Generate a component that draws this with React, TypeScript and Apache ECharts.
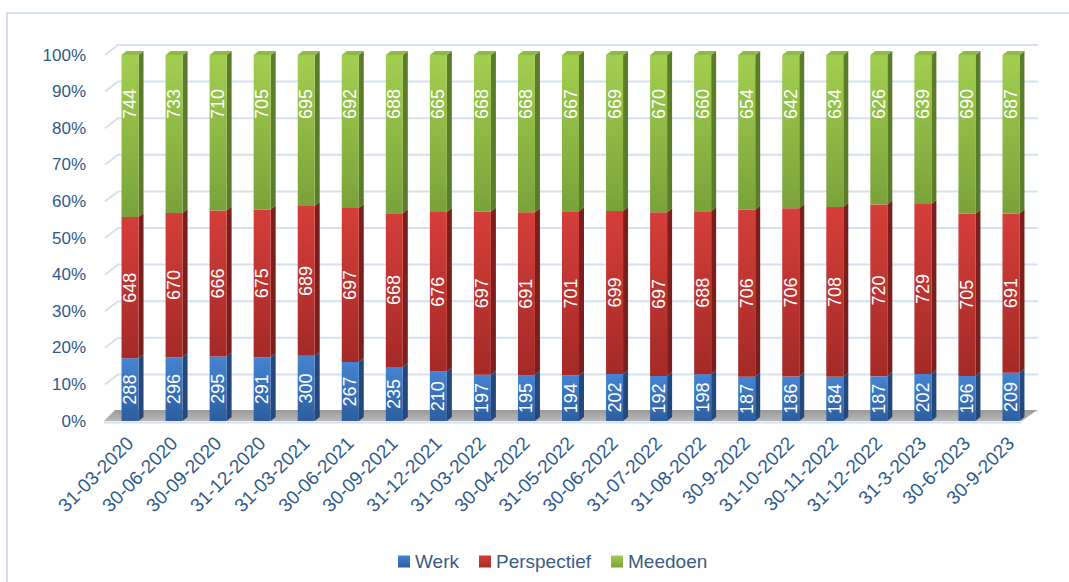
import React, { useEffect, useRef } from "react";
import * as echarts from "echarts";

const categories = [
  "31-03-2020", "30-06-2020", "30-09-2020", "31-12-2020", "31-03-2021", "30-06-2021",
  "30-09-2021", "31-12-2021", "31-03-2022", "30-04-2022", "31-05-2022", "30-06-2022",
  "31-07-2022", "31-08-2022", "30-9-2022", "31-10-2022", "30-11-2022", "31-12-2022",
  "31-3-2023", "30-6-2023", "30-9-2023",
];
const werk = [288, 296, 295, 291, 300, 267, 235, 210, 197, 195, 194, 202, 192, 198, 187, 186, 184, 187, 202, 196, 209];
const perspectief = [648, 670, 666, 675, 689, 697, 668, 676, 697, 691, 701, 699, 697, 688, 706, 706, 708, 720, 729, 705, 691];
const meedoen = [744, 733, 710, 705, 695, 692, 688, 665, 668, 668, 667, 669, 670, 660, 654, 642, 634, 626, 639, 690, 687];
const yTicks = [0, 10, 20, 30, 40, 50, 60, 70, 80, 90, 100];
const seriesNames = ["Werk", "Perspectief", "Meedoen"];

const FONT = "'Liberation Sans', Arial, sans-serif";
const TEXT_COLOR = "#2f5a8c";
const BAR_W = 17;
const DX = 5;
const DY = -4;

const grad = (top: string, bottom: string) =>
  new echarts.graphic.LinearGradient(0, 0, 0, 1, [
    { offset: 0, color: top },
    { offset: 1, color: bottom },
  ]);

export default function App() {
  const ref = useRef<HTMLDivElement>(null);

  useEffect(() => {
    document.body.style.margin = "0";
    if (!ref.current) return;
    const chart = echarts.init(ref.current, undefined, { renderer: "svg" });

    const totals = werk.map((w, i) => w + perspectief[i] + meedoen[i]);
    const pct = (arr: number[]) => arr.map((v, i) => (v / totals[i]) * 100);
    const pW = pct(werk);
    const pP = pct(perspectief);
    const pM = pct(meedoen);
    const raw = [werk, perspectief, meedoen];
    const pcts = [pW, pP, pM];
    const fronts = [
      grad("#4584d2", "#2d5e9f"),
      grad("#d53e3a", "#a42a27"),
      grad("#a2ce50", "#79a33a"),
    ];
    const sides = ["#24487a", "#7a1f1c", "#5b7c2a"];

    const depthData = categories.map((_, i) => [i, pW[i], pW[i] + pP[i], 100]);

    const barSeries = seriesNames.map((name, k) => ({
      name,
      type: "bar",
      stack: "total",
      barWidth: BAR_W,
      z: 3,
      itemStyle: { color: fronts[k] },
      data: pcts[k],
      label: {
        show: true,
        position: k === 2 ? ["50%", 49] : "inside",
        rotate: 90,
        align: "center",
        verticalAlign: "middle",
        color: "#ffffff",
        fontSize: 18,
        fontFamily: FONT,
        formatter: (p: any) => String(raw[k][p.dataIndex]),
      },
    }));

    const option: any = {
      animation: false,
      backgroundColor: "#ffffff",
      graphic: [
        {
          type: "rect",
          shape: { x: 7, y: 13, width: 1100, height: 620 },
          style: { fill: "none", stroke: "#d3dff0", lineWidth: 2 },
          silent: true,
          z: 0,
        },
      ],
      grid: { left: 108, right: 36, top: 55, bottom: 161 },
      legend: {
        data: seriesNames,
        left: 393,
        top: 547,
        icon: "rect",
        itemWidth: 12,
        itemHeight: 12,
        itemGap: 20,
        textStyle: { fontSize: 19, color: "#3b5b85", fontFamily: FONT },
      },
      xAxis: {
        type: "category",
        data: categories,
        axisLine: { show: false },
        axisTick: { show: false },
        axisLabel: {
          rotate: 45,
          interval: 0,
          margin: 19,
          fontSize: 19,
          color: TEXT_COLOR,
          fontFamily: FONT,
        },
      },
      yAxis: {
        type: "value",
        min: 0,
        max: 100,
        interval: 10,
        axisLine: { show: false },
        axisTick: { show: false },
        splitLine: { show: false },
        axisLabel: {
          formatter: "{value}%",
          margin: 22,
          fontSize: 17,
          color: TEXT_COLOR,
          fontFamily: FONT,
        },
      },
      series: [
        {
          type: "custom",
          name: "depth",
          z: 1,
          clip: false,
          silent: true,
          encode: { x: 0, y: 3 },
          data: depthData,
          renderItem: (params: any, api: any) => {
            const i = api.value(0);
            const xc = api.coord([i, 0])[0];
            const xl = xc - BAR_W / 2;
            const xr = xc + BAR_W / 2;
            const levels = [0, api.value(1), api.value(2), api.value(3)];
            const ys = levels.map((v) => api.coord([i, v])[1]);
            const children: any[] = [];
            if (params.dataIndex === 0) {
              const cs = params.coordSys;
              const x0 = cs.x;
              const x1 = cs.x + cs.width;
              yTicks.forEach((t) => {
                const y = api.coord([0, t])[1];
                children.push({
                  type: "polyline",
                  shape: { points: [[x0 - 3, y], [x0 + 10, y - 10], [x1 + 5, y - 10]] },
                  style: { stroke: "#d5e1f2", lineWidth: 2, fill: "none" },
                  z2: 0,
                });
              });
              const y0 = api.coord([0, 0])[1];
              children.push({
                type: "polygon",
                shape: { points: [[x0 - 4, y0], [x1 - 11, y0], [x1 + 4, y0 - 11], [x0 + 7, y0 - 11]] },
                style: {
                  fill: new echarts.graphic.LinearGradient(0, 0, 0, 1, [
                    { offset: 0, color: "#9a9a9a" },
                    { offset: 1, color: "#b8b8b8" },
                  ]),
                },
                z2: 1,
              });
              children.push({
                type: "line",
                shape: { x1: x0 - 4, y1: y0 + 1.5, x2: x1 - 11, y2: y0 + 1.5 },
                style: { stroke: "#d5e1f2", lineWidth: 2 },
                z2: 1,
              });
            }
            for (let k = 0; k < 3; k++) {
              const yb = ys[k];
              const yt = ys[k + 1];
              children.push({
                type: "polygon",
                shape: { points: [[xr, yb], [xr + DX, yb + DY], [xr + DX, yt + DY], [xr, yt]] },
                style: { fill: sides[k] },
                z2: 2,
              });
            }
            const ytop = ys[3];
            children.push({
              type: "polygon",
              shape: { points: [[xl, ytop], [xr, ytop], [xr + DX, ytop + DY], [xl + DX, ytop + DY]] },
              style: { fill: "#8fba44" },
              z2: 2,
            });
            return { type: "group", children };
          },
        },
        ...barSeries,
      ],
    };

    chart.setOption(option);
    return () => chart.dispose();
  }, []);

  return <div ref={ref} style={{ width: 1069, height: 582 }} />;
}
